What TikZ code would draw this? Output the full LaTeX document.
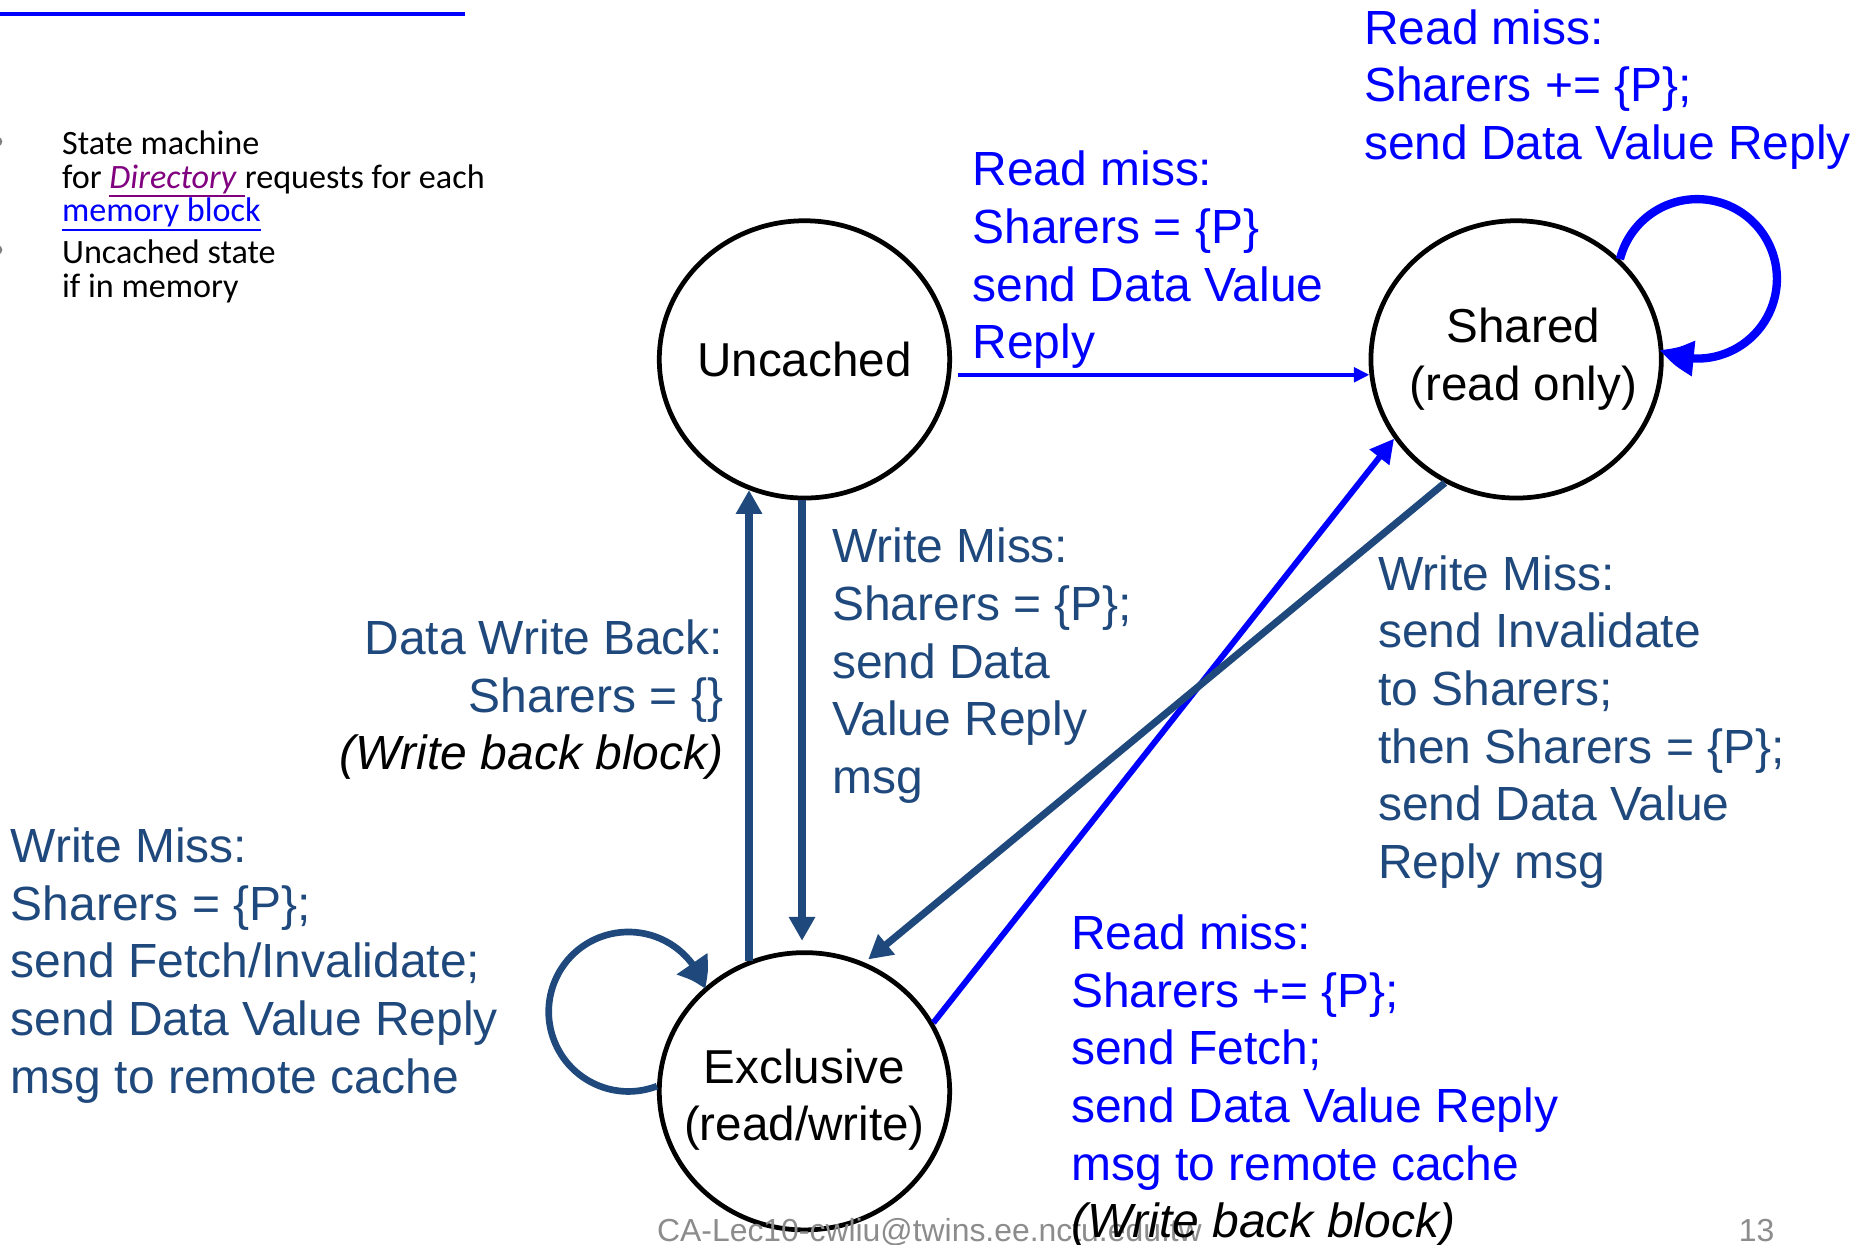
\documentclass[tikz,border=0pt]{standalone}
\usepackage{fontspec}
\setmainfont{Liberation Sans}
\newfontfamily\calibri{Carlito}
\usetikzlibrary{arrows.meta,bending,shapes.geometric}
\definecolor{dkblue}{RGB}{31,73,125}
\definecolor{pblue}{RGB}{0,0,255}
\definecolor{dirpurple}{RGB}{128,0,128}
\definecolor{footgrey}{RGB}{140,140,140}
\newcommand\lft[1]{\vtop{\let\\\cr\lineskiplimit=-\maxdimen\halign{##\hfil\cr#1\crcr}}}
\newcommand\rgt[1]{\vtop{\let\\\cr\lineskiplimit=-\maxdimen\halign{\hfil##\cr#1\crcr}}}
\newcommand\ctr[1]{\vtop{\let\\\cr\lineskiplimit=-\maxdimen\halign{\hfil##\hfil\cr#1\crcr}}}
\newcommand\ulc[2]{\sbox0{#2}\rlap{\color{#1}\rule[-7.5pt]{\wd0}{1.3pt}}\usebox0}
\begin{document}
\begin{tikzpicture}[x=1pt,y=1pt,
  state/.style={ellipse, draw=black, fill=white, line width=4pt, minimum width=244pt, minimum height=233pt, inner sep=0pt, font=\fontsize{40}{48.4}\selectfont},
  lbl/.style={inner sep=0pt, font=\fontsize{40.3}{48.4}\selectfont},
  lblL/.style={lbl, anchor=base west},
  lblR/.style={lbl, anchor=base east},
  bul/.style={inner sep=0pt, anchor=base west, font=\calibri\fontsize{28.7}{28.5}\selectfont},
  foot/.style={inner sep=0pt, anchor=base west, text=footgrey, font=\fontsize{26.8}{30}\selectfont},
  dkarrow/.style={draw=dkblue, line width=6pt, -{Triangle[length=20pt,width=21pt]}},
  blarrow/.style={draw=pblue, line width=5pt, -{Triangle[length=20pt,width=20pt]}},
  thinblue/.style={draw=pblue, line width=3.5pt, -{Triangle[length=13pt,width=12pt]}},
  loopdk/.style={draw=dkblue, line width=5.6pt, -{Triangle[length=24pt,width=30pt,bend]}},
  loopbl/.style={draw=pblue, line width=7pt, -{Triangle[length=30pt,width=28pt,bend]}}
]
\useasboundingbox (0,0) rectangle (1568,-1046);

% title underline and cut bullets
\draw[pblue, line width=3.4pt] (0,-11.8) -- (391,-11.8);
\fill[gray] (-2,-119) circle (4);
\fill[gray] (-2,-210) circle (4);

% bullet text
\node[bul] (b1) at (52,-129.5) {\lft{State machine\\for \ulc{dirpurple}{\color{dirpurple}\textit{Directory}\ }requests for each\\\ulc{pblue}{\color{pblue}memory block}}};
\node[bul] (b2) at (52,-221.3) {\lft{Uncached state\\if in memory}};

% states
\node[state] (unc) at (676,-302) {\makebox[0pt]{Uncached}};
\node[state] (sh) at (1274,-302) {\makebox[0pt]{\hskip12pt\ctr{Shared\\(read only)}}};
\node[state] (exc) at (676,-917) {\makebox[0pt]{\raisebox{-7pt}[\height][\depth]{\ctr{Exclusive\\(read/write)}}}};

% footer
\node[foot] (ft) at (552,-1043.5) {CA-Lec10-cwliu@twins.ee.nctu.edu.tw};
\node[foot] (pg) at (1461,-1043.5) {13};

% connectors
\draw[thinblue, shorten <=6pt] (unc.-6.49) -- (sh.186.49);
\draw[loopbl] (sh.44.2) arc[start angle=165.7, end angle=-118.1, radius=67];
\draw[blarrow] (exc.28.5) -- (sh.-147.8);
\draw[dkarrow, shorten >=4pt] (sh.-120.4) -- (exc.65.06);
\draw[dkarrow] (exc.113.7) -- (unc.-113.7);
\draw[dkarrow, shorten >=8pt] (unc.-91.93) -- (exc.91.93);
\draw[loopdk] (exc.178.2) arc[start angle=-69, end angle=-343.4, radius=67];

% labels
\node[lblL, text=pblue] (l1) at (1146,-37) {\lft{Read miss:\\Sharers += \{P\};\\send Data Value Reply}};
\node[lblL, text=pblue] (l2) at (817,-156.2) {\lft{Read miss:\\Sharers = \{P\}\\send Data Value\\Reply}};
\node[lblL, text=dkblue] (l3) at (699,-473) {\lft{Write Miss:\\Sharers = \{P\};\\send Data\\Value Reply\\msg}};
\node[lblR, text=dkblue] (l4) at (608,-550) {\rgt{Data Write Back:\\Sharers = \{\}\\{\color{black}\textit{(Write back block)}}}};
\node[lblL, text=dkblue] (l5) at (1158,-496) {\lft{Write Miss:\\send Invalidate\\to Sharers;\\then Sharers = \{P\};\\send Data Value\\Reply msg}};
\node[lblL, text=dkblue] (l6) at (9,-725) {\lft{Write Miss:\\Sharers = \{P\};\\send Fetch/Invalidate;\\send Data Value Reply\\msg to remote cache}};
\node[lblL, text=pblue] (l7) at (900,-798) {\lft{Read miss:\\Sharers += \{P\};\\send Fetch;\\send Data Value Reply\\msg to remote cache\\{\color{black}\textit{(Write back block)}}}};
\end{tikzpicture}
\end{document}
